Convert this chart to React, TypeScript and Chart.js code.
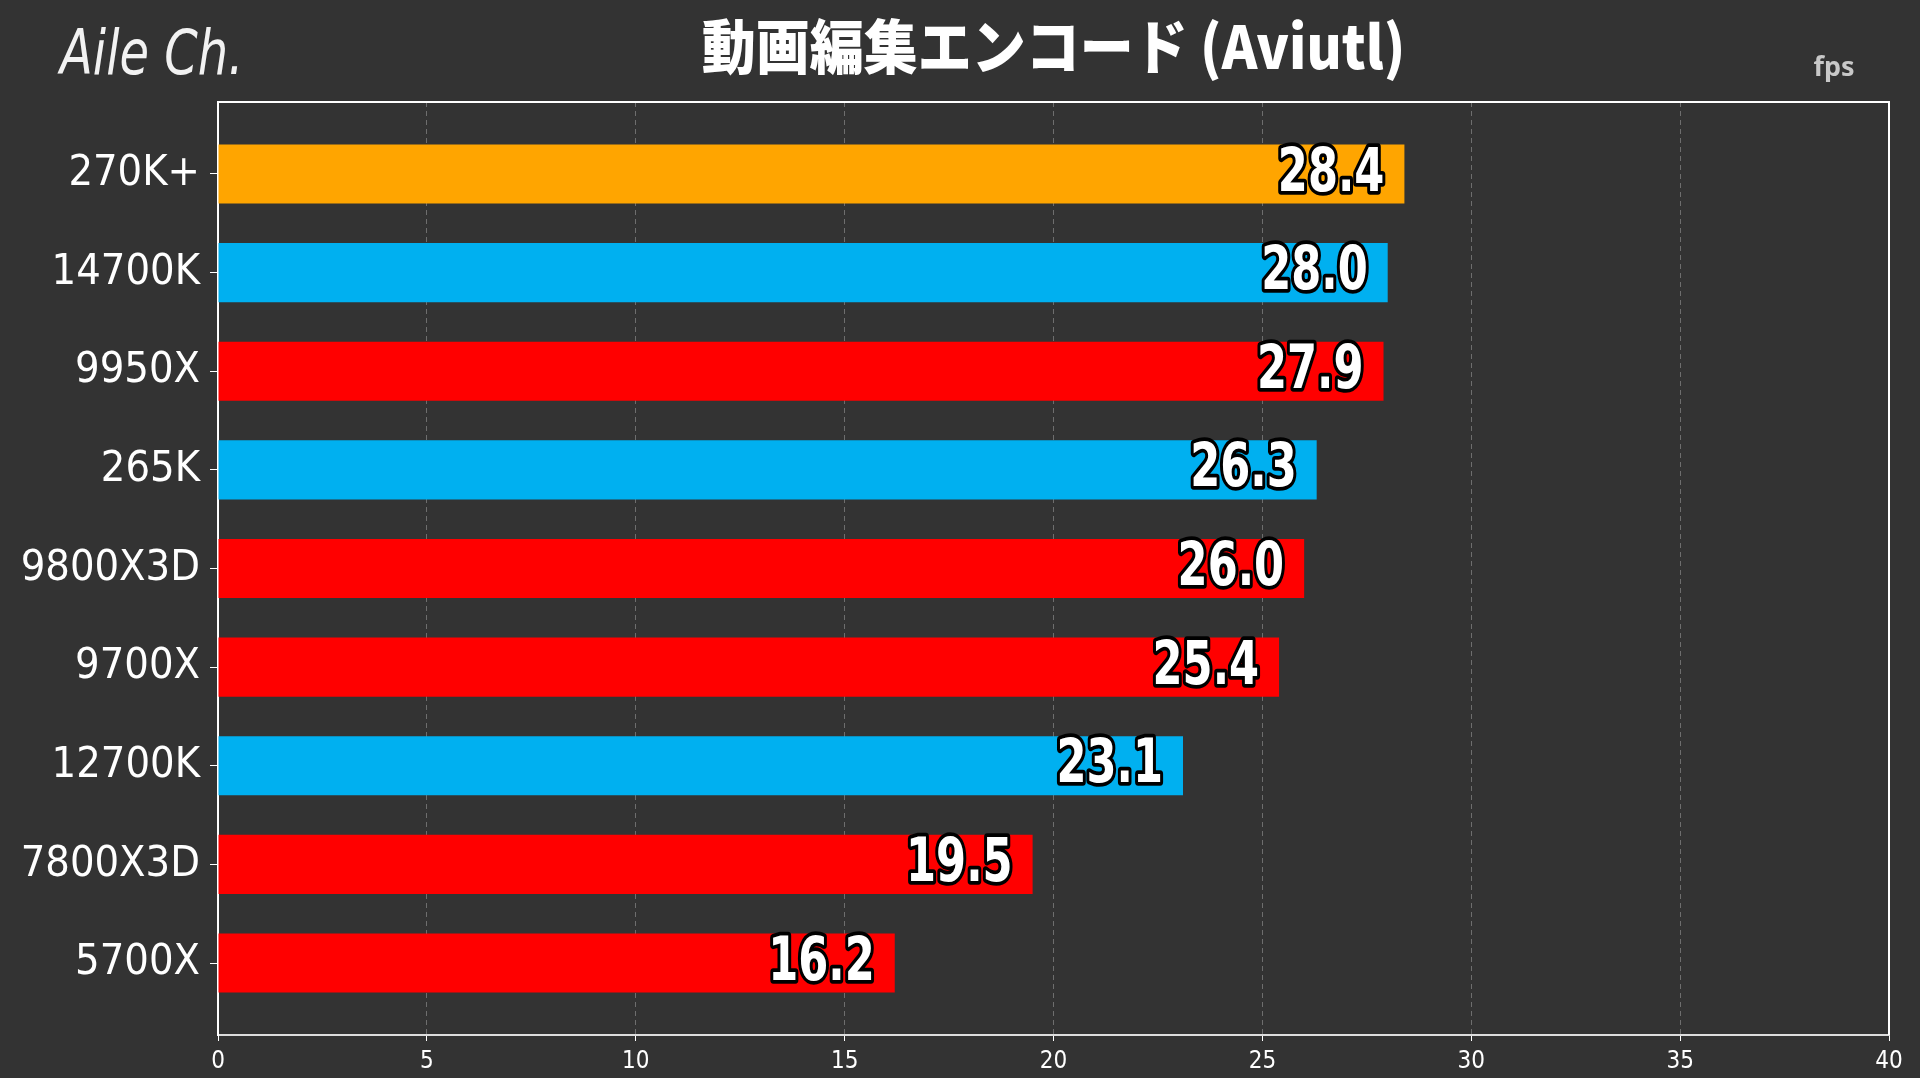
import { useEffect, useRef } from "react";
import { Chart, registerables, Plugin } from "chart.js";

Chart.register(...registerables);

// chart data, top row first
const cpus = ["270K+", "14700K", "9950X", "265K", "9800X3D", "9700X", "12700K", "7800X3D", "5700X"];
const vendors = ["intel", "intel", "amd", "intel", "amd", "amd", "intel", "amd", "amd"];
const fps = [28.4, 28.0, 27.9, 26.3, 26.0, 25.4, 23.1, 19.5, 16.2];
const highlight = "270K+";
const xTicks = [0, 5, 10, 15, 20, 25, 30, 35, 40];

const title = "動画編集エンコード (Aviutl)";
const unit = "fps";
const channel = "Aile Ch.";

const COLORS: Record<string, string> = {
  intel: "#00b0f0",
  amd: "#ff0000",
  highlight: "#ffa500",
};

const COND = "'DejaVu Sans Condensed', 'Liberation Sans Narrow', sans-serif";

const decorations: Plugin<"bar"> = {
  id: "decorations",
  afterDraw(chart) {
    const { ctx, chartArea } = chart;
    ctx.save();

    // box round the plot (top + right edges; left/bottom are the axes)
    ctx.strokeStyle = "#ffffff";
    ctx.lineWidth = 2;
    ctx.beginPath();
    ctx.moveTo(chartArea.left, chartArea.top);
    ctx.lineTo(chartArea.right, chartArea.top);
    ctx.lineTo(chartArea.right, chartArea.bottom);
    ctx.stroke();

    // title, centred over the plot
    ctx.fillStyle = "#ffffff";
    ctx.textAlign = "center";
    ctx.textBaseline = "middle";
    ctx.font = "900 54px 'Noto Sans CJK JP', sans-serif";
    ctx.save();
    ctx.translate((chartArea.left + chartArea.right) / 2, 46);
    ctx.scale(1, 1.1);
    ctx.fillText(title, 0, 0);
    ctx.restore();

    // unit
    ctx.fillStyle = "#c8c8c8";
    ctx.font = "bold 27px 'Noto Sans', sans-serif";
    ctx.textBaseline = "alphabetic";
    ctx.fillText(unit, 1834, 76);

    // channel mark (handwritten in the original; closest we have)
    ctx.fillStyle = "#f2f2f2";
    ctx.textAlign = "left";
    ctx.textBaseline = "middle";
    ctx.font = "italic 200 48px 'DejaVu Sans', sans-serif";
    ctx.save();
    ctx.translate(60, 58);
    ctx.scale(1, 1.3);
    ctx.fillText(channel, 0, 0);
    ctx.restore();

    // value labels, right aligned inside each bar
    const meta = chart.getDatasetMeta(0);
    ctx.font = `bold 48px ${COND}`;
    ctx.textAlign = "right";
    ctx.textBaseline = "middle";
    ctx.lineJoin = "round";
    meta.data.forEach((bar, i) => {
      const { x, y } = bar.getProps(["x", "y"], true) as { x: number; y: number };
      const txt = fps[i].toFixed(1);
      ctx.save();
      ctx.translate(x - 20, y + 1);
      ctx.scale(1, 1.25);
      ctx.strokeStyle = "#000000";
      ctx.lineWidth = 6;
      ctx.strokeText(txt, 0, 0);
      ctx.fillStyle = "#ffffff";
      ctx.fillText(txt, 0, 0);
      ctx.restore();
    });

    ctx.restore();
  },
};

export default function App() {
  const canvasRef = useRef<HTMLCanvasElement>(null);
  const chartRef = useRef<Chart | null>(null);

  useEffect(() => {
    document.body.style.margin = "0";
    document.body.style.background = "#333333";
    if (!canvasRef.current) return;

    chartRef.current?.destroy();
    chartRef.current = new Chart(canvasRef.current, {
      type: "bar",
      data: {
        labels: cpus,
        datasets: [
          {
            label: unit,
            data: fps.map((v, i) => ({ x: v, y: i })) as any,
            backgroundColor: cpus.map((c, i) => (c === highlight ? COLORS.highlight : COLORS[vendors[i]])),
            borderWidth: 0,
            barPercentage: 0.6,
            categoryPercentage: 1,
          },
        ],
      },
      options: {
        indexAxis: "y",
        responsive: true,
        maintainAspectRatio: false,
        animation: false,
        layout: { padding: { top: 102, right: 31, left: 0, bottom: 0 } },
        plugins: {
          legend: { display: false },
          tooltip: { enabled: false },
          title: { display: false },
        },
        scales: {
          x: {
            type: "linear",
            min: 0,
            max: 40,
            afterFit: (s: any) => {
              s.height = 43;
            },
            afterBuildTicks: (s: any) => {
              s.ticks = xTicks.map((v) => ({ value: v }));
            },
            grid: {
              color: "#6e6e6e",
              lineWidth: 1,
              tickColor: "#ffffff",
              tickLength: 6,
            },
            border: { display: true, color: "#dddddd", width: 2, dash: [5, 4] },
            ticks: {
              color: "#ffffff",
              font: { family: COND, size: 24 },
              padding: 6,
              maxRotation: 0,
            },
          },
          y: {
            type: "linear",
            reverse: true,
            offset: false,
            min: -0.73,
            max: 8.73,
            afterFit: (s: any) => {
              s.width = 218;
            },
            grid: {
              offset: false,
              drawOnChartArea: false,
              drawTicks: true,
              tickLength: 8,
              tickColor: "#ffffff",
            },
            border: { display: true, color: "#ffffff", width: 2 },
            ticks: {
              stepSize: 1,
              includeBounds: false,
              color: "#ffffff",
              font: { family: COND, size: 43 },
              padding: 10,
              callback: (v: any) => cpus[v] ?? "",
            },
          },
        },
      },
      plugins: [decorations],
    });

    return () => {
      chartRef.current?.destroy();
    };
  }, []);

  return (
    <div style={{ position: "relative", width: "1920px", height: "1078px", background: "#333333" }}>
      <canvas ref={canvasRef} />
    </div>
  );
}
